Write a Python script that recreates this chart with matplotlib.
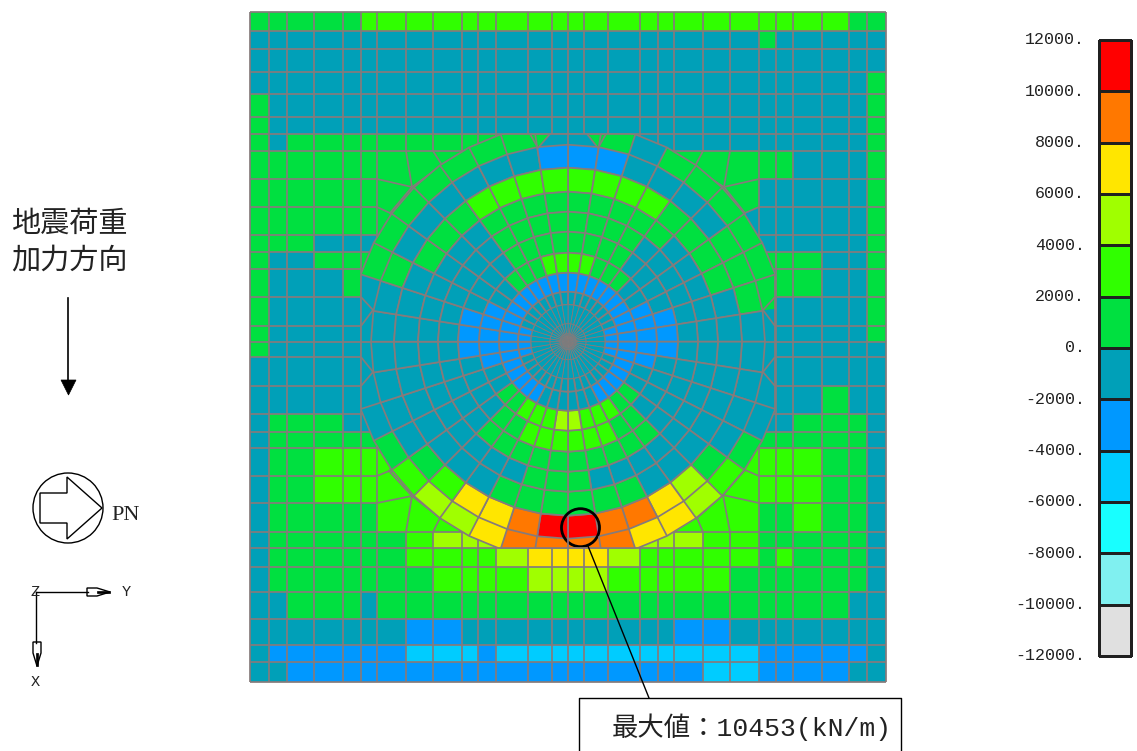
import numpy as np
import matplotlib
matplotlib.use("Agg")
import matplotlib.pyplot as plt
from matplotlib.collections import PolyCollection, LineCollection
from matplotlib.colors import ListedColormap, BoundaryNorm
from matplotlib.patches import Rectangle, Circle, Polygon

# ── Contour bands (kN/m) ─────────────────────────────────────────────────────
LEVELS = [-12000, -10000, -8000, -6000, -4000, -2000, 0, 2000, 4000, 6000, 8000, 10000, 12000]
BAND_COLORS = ["#e0e0e0", "#80f0f0", "#18ffff", "#00ccff", "#0098ff", "#00a0b8",
               "#00e040", "#30ff00", "#a0ff00", "#ffe600", "#ff7800", "#ff0000"]
TICK_LABELS = ["-12000.", "-10000.", "-8000.", "-6000.", "-4000.", "-2000.", "0.",
               "2000.", "4000.", "6000.", "8000.", "10000.", "12000."]
# letter -> middle of its band
BAND = {"S": -5000, "B": -3000, "T": -1000, "M": 1000, "G": 3000, "L": 5000,
        "Y": 7000, "O": 9000, "R": 11000}

# ── Rectangular part of the mesh ─────────────────────────────────────────────
GRID_X = [250, 269, 287, 314, 343, 361, 377, 406, 433, 462, 478, 496, 528, 552, 568,
          584, 608, 640, 658, 674, 703, 730, 759, 776, 793, 822, 849, 867, 886]
GRID_Y = [12, 31, 49, 72, 94, 117, 134, 151, 179, 207, 235, 252, 269, 297, 326, 341.7,
          357, 386, 414, 432, 448, 476, 503, 532, 548, 567, 592, 619, 645, 662, 682]
GRID_ROWS = [
    "MMMMMGGGGGGGGGGGGGGGGGGGGGMM",
    "TTTTTTTTTTTTTTTTTTTTTTMTTTTT",
    "TTTTTTTTTTTTTTTTTTTTTTTTTTTT",
    "TTTTTTTTTTTTTTTTTTTTTTTTTTTM",
    "MTTTTTTTTTTTTTTTTTTTTTTTTTTM",
    "MTTTTTTTTTTTTTTTTTTTTTTTTTTM",
    "MTMMMMMMMMMTTTTTTTTTTTTTTTTM",
    "MMMMMMMMMMMMMMMMMMMMMMMMTTTM",
    "MMMMMMMMMMMMMMMMMMMMMMTTTTTM",
    "MMMMMMMMMMMMMMMMMMMMMTTTTTTM",
    "MMMTTTTTTTTTTTTTTTTTTTTTTTTM",
    "MTTMMMTTTTTTTTTTTTTTTTMMMTTM",
    "MTTTMTTTTTTTTTTTTTTTTTTMMTTM",
    "MTTTTTTTTTTTTTTTTTTTTTTTTTTM",
    "MTTTTTTTTTTTTTTTTTTTTTTTTTTM",
    "MTTTTTTTTTTTTTTTTTTTTTTTTTTT",
    "TTTTTTTTTTTTTTTTTTTTTTTTTTTT",
    "TTTTTTTTTTTTTTTTTTTTTTTTTMTT",
    "TMMMTTTTTTTTTTTTTTTTTTTTMMMT",
    "TMMMMMMMMMMMMMMMMMMMMMMMMMMT",
    "TMMGGGGGGGGGGGGGGGGGGGGGGMMT",
    "TMMGGGGGGGGGGGGGGGGGGGGGGMMT",
    "TMMMMMGGGGGGGGGGGGGGGGMMGMMT",
    "TMMMMMMGLLLLLLLLLLLLGGMMMMMT",
    "TMMMMMMGGGGLYYYYLGGGGGMGMMMT",
    "TMMMMMMMGGGGLLLLGGGGGMMMMMMT",
    "TTMMMTMMMMMMMMMMMMMMMMMMMMTT",
    "TTTTTTTBBTTTTTTTTTTBBTTTTTTT",
    "TBBBBBBSSSBSSSSSSSSSSSBBBBBT",
    "TTBBBBBBBBBBBBBBBBBBSSBBBBTT",
]
# grid nodes pulled onto the ring's outer circle
MOVED_NODES = [
    ((406, 179), (412, 187)), ((433, 179), (442, 165)), ((406, 207), (390, 213)),
    ((730, 179), (724, 187)), ((703, 179), (694, 168)), ((730, 207), (745, 213)),
    ((406, 476), (389, 471)), ((406, 503), (412, 496)), ((433, 503), (440, 518)),
    ((730, 476), (745, 470)), ((730, 503), (723, 495)), ((703, 503), (697, 518)),
]

# ── Circular part of the mesh ────────────────────────────────────────────────
RADII = [218, 197, 174, 150, 130, 110, 89, 69, 50, 37, 18, 8, 0]
# each string: 10 wedges of 9 deg, counted from the vertical axis towards the horizontal
RING_NE = ["TMTMMMMMMT", "BBTTTTMMMT", "GGGGMMMMTT", "MMMMMTTTTT", "MMMMTTTTTT", "MMMMTTTTBB",
           "GGMMMTTBBB", "BBBBBBBBBB", "TTTTTTTTBB", "TTTTTTTTTT", "TTTTTTTTTT", "TTTTTTTTTT"]
RING_SE = ["OOYYLGMTTT", "ROOYLMTTTT", "MMMTTTTTTT", "MTTTTTTTTT", "MMMMMTTTTT", "GGGMMTTTTB",
           "LGGGMMTTBB", "TTTBBBBBBB", "TTTTTTTTBB", "TTTTTTTTTT", "TTTTTTTTTT", "TTTTTTTTTT"]
RING_SW = ["OOYLLGMTTT", "ROYYGMTTTT", "MMMTTTTTTT", "MMTTTTTTTT", "MMMMMTTTTT", "GGGMMTTTTB",
           "LGGGMMTTBB", "TTTBBBBBBB", "TTTTTTTTBB", "TTTTTTTTTT", "TTTTTTTTTT", "TTTTTTTTTT"]
RING_NW = ["TMMMMMMMTT", "BTTTTTTMTT", "GGGGMMMTTT", "MMMMTTTTTT", "MMMMTTTTTT", "MMMMTTTTBB",
           "GGMMMTTBBB", "BBBBBBBBBB", "TTTTTTTTBB", "TTTTTTTTTT", "TTTTTTTTTT", "TTTTTTTTTT"]
# small extra elements and edges where the rings meet the grid
EXTRA_CELLS = [[(530, 134), (550, 134), (538, 148)], [(587, 134), (606, 134), (598, 148)]]
EXTRA_EDGES = [
    [(361, 297), (373, 310)], [(361, 326), (373, 310)], [(361, 357), (373, 372)], [(361, 386), (373, 372)],
    [(775, 297), (763, 310)], [(775, 326), (763, 310)], [(775, 357), (763, 372)], [(775, 386), (763, 372)],
]

CENTER = (568, 341.7)
SQUARE = (361, 134, 414, 414)
MESH_COLOR = "#857b7b"
MESH_LW = 1.25

fig = plt.figure(figsize=(11.37, 7.51), dpi=100)
ax = fig.add_axes([0, 0, 1, 1])
ax.set_xlim(0, 1137)
ax.set_ylim(751, 0)
ax.axis("off")

cmap = ListedColormap(BAND_COLORS)
norm = BoundaryNorm(LEVELS, cmap.N)

# ── Grid ─────────────────────────────────────────────────────────────────────
X, Y = np.meshgrid(np.array(GRID_X, dtype=float), np.array(GRID_Y, dtype=float))
for (x0, y0), (x1, y1) in MOVED_NODES:
    i = GRID_Y.index(y0)
    j = GRID_X.index(x0)
    X[i, j] = x1
    Y[i, j] = y1
grid_values = np.array([[BAND[c] for c in row] for row in GRID_ROWS], dtype=float)
ax.pcolormesh(X, Y, grid_values, cmap=cmap, norm=norm, edgecolors="none", antialiased=False, zorder=0.5)
ax.add_collection(LineCollection([np.column_stack([X[i], Y[i]]) for i in range(X.shape[0])],
                                 colors=MESH_COLOR, linewidths=MESH_LW, zorder=0.8))
ax.add_collection(LineCollection([np.column_stack([X[:, j], Y[:, j]]) for j in range(X.shape[1])],
                                 colors=MESH_COLOR, linewidths=MESH_LW, zorder=0.8))


def wedge(r_out, r_in, k):
    a0, a1 = np.radians(9 * k), np.radians(9 * (k + 1))
    pts = [(r_out, a0), (r_out, a1), (r_in, a1), (r_in, a0)]
    return [(CENTER[0] + r * np.sin(a), CENTER[1] - r * np.cos(a)) for r, a in pts]


clip_rect = Rectangle(SQUARE[:2], SQUARE[2], SQUARE[3], transform=ax.transData)
circle_pts = [(CENTER[0] + RADII[0] * np.sin(np.radians(9 * k)),
               CENTER[1] - RADII[0] * np.cos(np.radians(9 * k))) for k in range(40)]
clip_circle = Polygon(circle_pts, closed=True, transform=ax.transData)

# ── Rings ────────────────────────────────────────────────────────────────────
for n in range(len(RADII) - 1):
    ring = RING_NE[n] + RING_SE[n][::-1] + RING_SW[n] + RING_NW[n][::-1]
    polys = [wedge(RADII[n], RADII[n + 1], k) for k in range(40)]
    vals = [BAND[c] for c in ring]
    if n == 0:
        pc = PolyCollection(polys, array=vals, cmap=cmap, norm=norm, edgecolors="face", linewidths=0.3)
        ax.add_collection(pc)
        pc.set_clip_path(clip_rect)
    else:
        lw = MESH_LW if n < 9 else 0.6
        pc = PolyCollection(polys, array=vals, cmap=cmap, norm=norm, edgecolors=MESH_COLOR, linewidths=lw)
        ax.add_collection(pc)

# outer ring edges, the spokes next to the horizontal axis run differently
spokes = [k for k in range(40) if k not in (9, 11, 29, 31)]
seg = []
for k in spokes:
    a = np.radians(9 * k)
    seg.append([(CENTER[0] + RADII[1] * np.sin(a), CENTER[1] - RADII[1] * np.cos(a)),
                (CENTER[0] + 218 * np.sin(a), CENTER[1] - 218 * np.cos(a))])
lc = LineCollection(seg, colors=MESH_COLOR, linewidths=MESH_LW)
ax.add_collection(lc)
lc.set_clip_path(clip_rect)
ring_line = ax.plot([p[0] for p in circle_pts + circle_pts[:1]], [p[1] for p in circle_pts + circle_pts[:1]],
                    color=MESH_COLOR, lw=MESH_LW)[0]
ring_line.set_clip_path(clip_rect)
sq_x = [SQUARE[0], SQUARE[0] + SQUARE[2], SQUARE[0] + SQUARE[2], SQUARE[0], SQUARE[0]]
sq_y = [SQUARE[1], SQUARE[1], SQUARE[1] + SQUARE[3], SQUARE[1] + SQUARE[3], SQUARE[1]]
sq_line = ax.plot(sq_x, sq_y, color=MESH_COLOR, lw=MESH_LW)[0]
sq_line.set_clip_path(clip_circle)

ax.add_collection(PolyCollection(EXTRA_CELLS, array=[BAND["M"]] * len(EXTRA_CELLS), cmap=cmap, norm=norm,
                                 edgecolors=MESH_COLOR, linewidths=MESH_LW))
ax.add_collection(LineCollection(EXTRA_EDGES, colors=MESH_COLOR, linewidths=MESH_LW))

# ── Maximum value callout ────────────────────────────────────────────────────
ax.add_patch(Circle((580.5, 527.7), 19, fill=False, ec="black", lw=2.0))
ax.plot([588, 649], [546, 698], color="black", lw=1.0)
ax.plot([579, 579, 901, 901], [751, 698, 698, 751], color="black", lw=1.0)
ax.text(751.5, 727, "最大値：10453(kN/m)", fontsize=19, ha="center", va="center",
        family=["Liberation Mono", "Noto Sans CJK JP"], color="#222222")

# ── Colour bar ───────────────────────────────────────────────────────────────
level_y = np.linspace(656, 40, len(LEVELS))
bar_vals = (np.array(LEVELS[:-1]) + np.array(LEVELS[1:])) / 2
ax.pcolormesh([1099, 1131], level_y, bar_vals.reshape(-1, 1), cmap=cmap, norm=norm,
              edgecolors="#202020", linewidth=0.9)
for y, label in zip(level_y, TICK_LABELS):
    ax.text(1085, y, label, fontsize=12, ha="right", va="center", family="Liberation Mono", color="#222222")

# ── Load direction note ──────────────────────────────────────────────────────
cjk = ["Noto Sans CJK JP", "DejaVu Sans"]
ax.text(69, 224, "地震荷重", fontsize=21, ha="center", va="center", family=cjk, color="#222222")
ax.text(69, 261, "加力方向", fontsize=21, ha="center", va="center", family=cjk, color="#222222")
ax.plot([68, 68], [298, 382], color="black", lw=1.2)
ax.add_patch(Polygon([(61, 380), (76, 380), (68.5, 395)], closed=True, fc="black", ec="black", lw=0.5))

# ── PN symbol ────────────────────────────────────────────────────────────────
ax.add_patch(Circle((68, 508), 35, fill=False, ec="black", lw=1.0))
ax.add_patch(Polygon([(40, 493), (67, 493), (67, 477), (102, 508), (67, 539), (67, 523), (40, 523)],
                     closed=True, fill=False, ec="black", lw=1.0))
ax.text(111, 515, "PN", fontsize=16, ha="left", va="center", family="Liberation Serif", color="#222222")

# ── Axes triad ───────────────────────────────────────────────────────────────
ax.plot([36, 88], [592, 592], color="black", lw=1.0)
ax.plot([36, 36], [592, 643], color="black", lw=1.0)
ax.add_patch(Polygon([(87, 588), (97, 588), (110, 592), (97, 596), (87, 596)], closed=True,
                     fc="white", ec="black", lw=1.0))
ax.add_patch(Polygon([(97, 591), (110, 591), (110, 593), (97, 593)], closed=True, fc="black", ec="black", lw=0.5))
ax.add_patch(Polygon([(33, 642), (41, 642), (41, 653), (37, 666), (33, 653)], closed=True,
                     fc="white", ec="black", lw=1.0))
ax.add_patch(Polygon([(36, 653), (38, 653), (38, 666), (36, 666)], closed=True, fc="black", ec="black", lw=0.5))
ax.text(35, 592, "Z", fontsize=11, ha="center", va="center", family="Liberation Mono", color="#222222")
ax.text(126, 592, "Y", fontsize=11, ha="center", va="center", family="Liberation Mono", color="#222222")
ax.text(35, 682, "X", fontsize=11, ha="center", va="center", family="Liberation Mono", color="#222222")

fig.savefig("out.png", dpi=100)
